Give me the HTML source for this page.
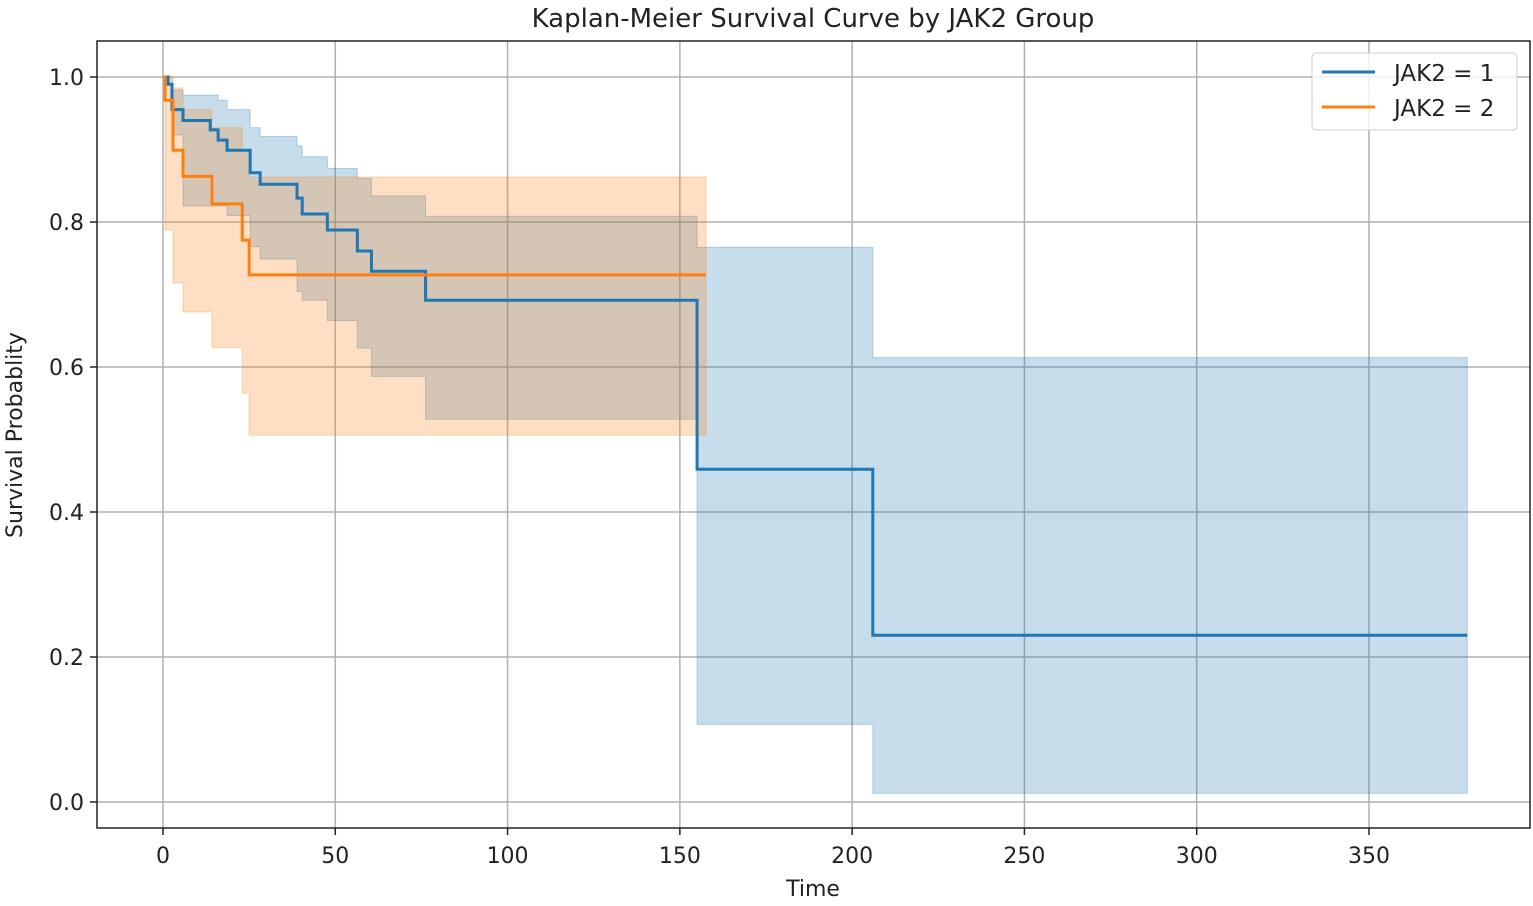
<!DOCTYPE html>
<html><head><meta charset="utf-8"><style>
html,body{margin:0;padding:0;background:#fff;}
svg text{font-family:"DejaVu Sans","Liberation Sans",sans-serif;fill:#222;}
</style></head><body>
<svg id="chart" width="1533" height="901" xmlns="http://www.w3.org/2000/svg">
<rect x="0" y="0" width="1533" height="901" fill="#fff"/>
<g id="grid"></g>
<g id="bands"></g>
<g id="lines"></g>
<rect x="97" y="41" width="1433" height="787" fill="none" stroke="#222" stroke-width="1.5"/>
<g id="xticks"></g>
<g id="yticks"></g>
<text x="813" y="27" font-size="26" text-anchor="middle">Kaplan-Meier Survival Curve by JAK2 Group</text>
<text x="813" y="896" font-size="22" text-anchor="middle">Time</text>
<text transform="translate(22,435) rotate(-90)" font-size="22" text-anchor="middle">Survival Probablity</text>
<g>
<rect x="1312" y="53" width="205" height="77" rx="4" fill="#fff" fill-opacity="0.8" stroke="#ccc"/>
<line x1="1322" y1="72" x2="1375" y2="72" stroke="#1f77b4" stroke-width="3"/>
<text x="1394" y="81" font-size="23">JAK2 = 1</text>
<line x1="1322" y1="107" x2="1375" y2="107" stroke="#ff7f0e" stroke-width="3"/>
<text x="1394" y="116" font-size="23">JAK2 = 2</text>
</g>
</svg>
<script>
const xTicks=[0,50,100,150,200,250,300,350];
const yTicks=[0.0,0.2,0.4,0.6,0.8,1.0];
const g1Times=[0,1.5,2.6,5.8,13.7,16,18.6,25.3,28.2,38.9,40.4,47.7,56.4,60.5,76.2,155,206,378.5];
const g1Surv=[1.0,0.99,0.955,0.94,0.927,0.913,0.899,0.868,0.852,0.833,0.811,0.789,0.76,0.732,0.692,0.459,0.23,0.23];
const g1Upper=[1.0,1.0,0.982,0.975,0.975,0.968,0.955,0.93,0.918,0.905,0.89,0.874,0.86,0.836,0.808,0.765,0.613,0.613];
const g1Lower=[1.0,1.0,0.92,0.822,0.822,0.822,0.809,0.766,0.749,0.704,0.692,0.664,0.626,0.587,0.528,0.107,0.012,0.012];
const g2Times=[0,0.6,2.9,5.8,14.2,23,25,157.6];
const g2Surv=[1.0,0.968,0.899,0.863,0.825,0.775,0.727,0.727];
const g2Upper=[1.0,1.0,0.985,0.955,0.93,0.9,0.862,0.862];
const g2Lower=[1.0,0.789,0.716,0.676,0.627,0.564,0.506,0.506];
const NS="http://www.w3.org/2000/svg";
const X=v=>163+v*(1369-163)/350;
const Y=v=>802-v*725;
function mk(t,a,p){const e=document.createElementNS(NS,t);for(const k in a)e.setAttribute(k,a[k]);p.appendChild(e);return e;}
const grid=document.getElementById('grid'),xt=document.getElementById('xticks'),yt=document.getElementById('yticks');
xTicks.forEach(v=>{
 const l=mk('line',{x1:X(v),x2:X(v),y1:41,y2:828,stroke:'#b0b0b0','stroke-width':1.5},grid);
 
 
 mk('line',{x1:X(v),x2:X(v),y1:828,y2:835,stroke:'#222','stroke-width':1.5},xt);
 const t=mk('text',{x:X(v),y:863,'font-size':22,'text-anchor':'middle'},xt);t.textContent=v;
 
 
});
yTicks.forEach(v=>{
 const l=mk('line',{x1:97,x2:1530,y1:Y(v),y2:Y(v),stroke:'#b0b0b0','stroke-width':1.5},grid);
 
 
 mk('line',{x1:90,x2:97,y1:Y(v),y2:Y(v),stroke:'#222','stroke-width':1.5},yt);
 const t=mk('text',{x:84,y:Y(v)+8,'font-size':22,'text-anchor':'end'},yt);t.textContent=v.toFixed(1);
 
 
});
function stepPts(ts,vs){let p=[];for(let i=0;i<ts.length;i++){if(i>0)p.push([X(ts[i]),Y(vs[i-1])]);p.push([X(ts[i]),Y(vs[i])]);}return p;}
function band(ts,up,lo,col,name){
 const u=stepPts(ts,up),l=stepPts(ts,lo).reverse();
 const e=mk('polygon',{points:u.concat(l).map(p=>p.join(',')).join(' '),fill:col,'fill-opacity':0.25,stroke:col,'stroke-opacity':0.3},document.getElementById('bands'));
 
 
}
function line(ts,vs,col,name){
 const e=mk('polyline',{points:stepPts(ts,vs).map(p=>p.join(',')).join(' '),fill:'none',stroke:col,'stroke-width':3},document.getElementById('lines'));
 
 
}
band(g1Times,g1Upper,g1Lower,'#1f77b4','ci-band-jak2-1');
band(g2Times,g2Upper,g2Lower,'#ff7f0e','ci-band-jak2-2');
line(g1Times,g1Surv,'#1f77b4','survival-line-jak2-1');
line(g2Times,g2Surv,'#ff7f0e','survival-line-jak2-2');
</script>
</body></html>
